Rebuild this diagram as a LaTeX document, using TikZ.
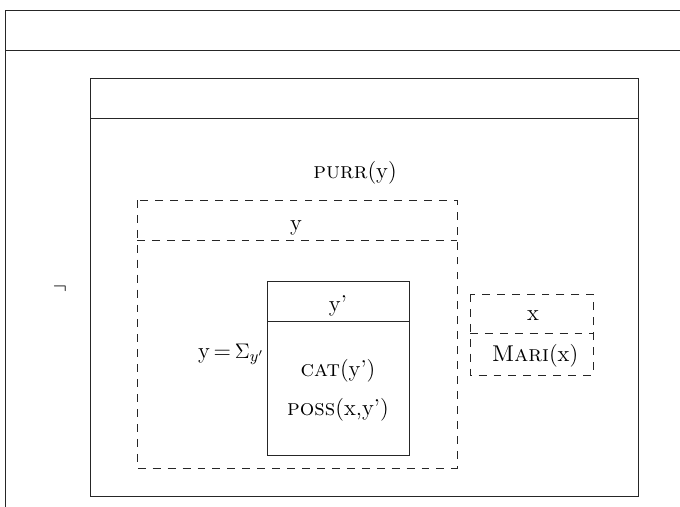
\documentclass[tikz,border=0pt]{standalone}
\usepackage{tikz}
\usetikzlibrary{positioning}

\begin{document}
\begin{tikzpicture}[x=0.02cm, y=-0.02cm, line width=0.45pt,
    font=\fontsize{13}{15}\selectfont,
    solidbox/.style={draw=black!85},
    dashbox/.style={draw=black!85, dash pattern=on 4.5pt off 4pt},
    cond/.style={inner sep=1pt, anchor=base}]
\useasboundingbox (0,0) rectangle (680,507);
\clip (0,0) rectangle (680,507);
% --- Outer box (negated) ---
\draw[solidbox] (5,10) rectangle (700,530);
\draw[solidbox] (5,50) -- (700,50);
\node (neg) at (60,289) {$\neg$};
% --- Inner box ---
\draw[solidbox] (90,78) rectangle (638,496);
\draw[solidbox] (90,118) -- (638,118);
\node[cond] (purr) at (355,178) {\textsc{purr}(y)};
% Dashed box for y
\draw[dashbox] (137,200) rectangle (457,468);
\draw[dashbox] (137,240) -- (457,240);
\node[cond] (yref) at (296,230) {y};
% Summation label
\node[cond] (sum) at (231,358) {y\,=\,$\Sigma_{y'}$};
% Solid box for y'
\draw[solidbox] (267,281) rectangle (409,455);
\draw[solidbox] (267,321) -- (409,321);
\node[cond] (yprime) at (338,311) {y'};
\node[cond] (cat) at (338,376) {\textsc{cat}(y')};
\node[cond] (poss) at (338,415) {\textsc{poss}(x,y')};
% Dashed box for x
\draw[dashbox] (470,294) rectangle (593,375);
\draw[dashbox] (470,333) -- (593,333);
\node[cond] (xref) at (533,320) {x};
\node[cond] (mari) at (535,361) {\textsc{Mari}(x)};
\end{tikzpicture}
\end{document}
